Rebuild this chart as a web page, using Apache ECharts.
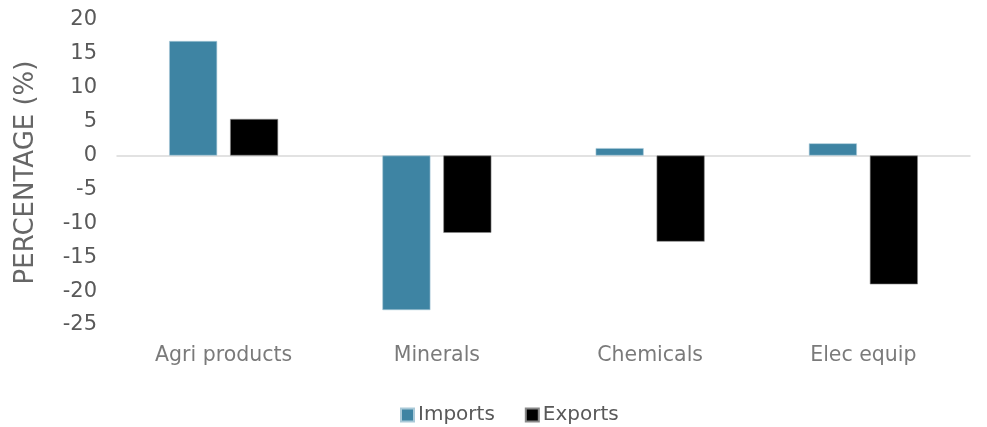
<!DOCTYPE html>
<html>
<head>
<meta charset="utf-8">
<script src="https://cdn.jsdelivr.net/npm/echarts@6/dist/echarts.min.js"></script>
<style>
html,body{margin:0;padding:0;background:#fff;}
#chart{width:987px;height:427px;}
</style>
</head>
<body>
<div id="chart"></div>
<script>
const categories = ['Agri products', 'Minerals', 'Chemicals', 'Elec equip'];
const imports = [16.9, -22.8, 1.1, 1.8];
const exports_ = [5.4, -11.4, -12.7, -19.0];
const yTicks = { min: -25, max: 20, interval: 5 };

const chart = echarts.init(document.getElementById('chart'));
const font = '"DejaVu Sans", sans-serif';
chart.setOption({
  animation: false,
  textStyle: { fontFamily: font },
  grid: { left: 117, right: 17, top: 20, bottom: 102, containLabel: false },
  legend: {
    left: 395,
    top: 400,
    itemWidth: 13,
    itemHeight: 13,
    itemGap: 30,
    icon: 'rect',
    textStyle: { fontSize: 20, color: '#595959', fontFamily: font, padding: [0, 0, 0, -1] },
    data: ['Imports', 'Exports']
  },
  xAxis: {
    type: 'category',
    data: categories,
    axisLine: { show: true, onZero: true, lineStyle: { color: '#d9d9d9', width: 1.5 } },
    axisTick: { show: false },
    position: 'bottom',
    axisLabel: { show: false }
  },
  yAxis: {
    type: 'value',
    min: yTicks.min,
    max: yTicks.max,
    interval: yTicks.interval,
    name: 'PERCENTAGE (%)',
    nameLocation: 'middle',
    nameGap: 78,
    nameTextStyle: { fontSize: 26, color: '#666666', fontFamily: font },
    axisLine: { show: false },
    axisTick: { show: false },
    splitLine: { show: false },
    axisLabel: { fontSize: 21, color: '#595959', margin: 20, fontFamily: font }
  },
  series: [
    {
      name: 'Imports',
      type: 'bar',
      data: imports,
      barWidth: 48,
      barGap: '27%',
      itemStyle: { color: '#3E84A3', borderColor: '#a9c9d8', borderWidth: 0.6 }
    },
    {
      name: 'Exports',
      type: 'bar',
      data: exports_,
      barWidth: 48,
      itemStyle: { color: '#000000', borderColor: '#888888', borderWidth: 0.6 }
    },
    {
      name: 'labels',
      type: 'scatter',
      data: categories.map(c => [c, yTicks.min]),
      symbolSize: 0,
      silent: true,
      label: {
        show: true,
        position: 'bottom',
        distance: 20,
        formatter: p => p.name,
        fontSize: 20.5,
        color: '#595959',
        fontFamily: font
      },
      tooltip: { show: false }
    }
  ]
});
</script>
</body>
</html>
